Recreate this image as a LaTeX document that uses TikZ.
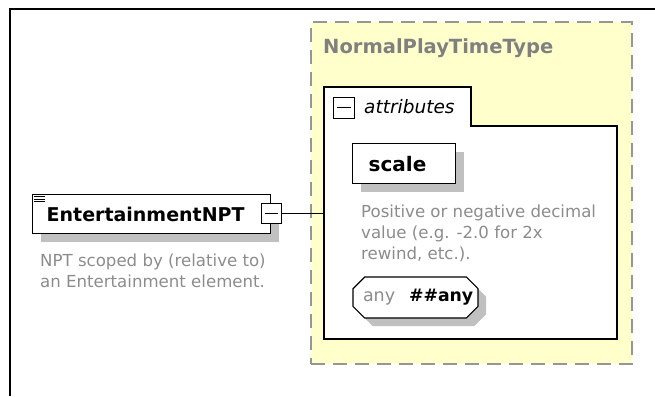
\documentclass[tikz,border=0pt]{standalone}
\usepackage{fontspec}
\setmainfont{DejaVu Sans}
\usetikzlibrary{positioning,shapes.misc,shadows,calc}
\definecolor{typeYellow}{RGB}{255,255,204}
\definecolor{dashGray}{RGB}{150,150,150}
\definecolor{shadowGray}{RGB}{192,192,192}
\definecolor{noteGray}{RGB}{140,140,140}
\definecolor{titleGray}{RGB}{128,128,128}

\begin{document}
\begin{tikzpicture}[x=1pt,y=-1pt,
  shade/.style={drop shadow={shadow xshift=8pt, shadow yshift=-8pt,
                fill=shadowGray, opacity=1}},
  elem/.style={rectangle, draw, line width=1.4pt, fill=white, shade,
               anchor=north west, inner ysep=0pt, align=left,
               font=\fontsize{#1}{#1}\selectfont\bfseries},
  minusbox/.style={rectangle, draw, line width=1pt, fill=white,
                   minimum size=#1, inner sep=0pt},
  note/.style={anchor=north west, inner sep=0pt, align=left, text=noteGray,
               font=\fontsize{16.6}{21}\selectfont},
  conn/.style={line width=1pt}
]
  \useasboundingbox (0,0) rectangle (655,396);

  % Outer frame
  \draw[line width=1.2pt] (655,9) -- (10,9) -- (10,396);

  % Complex type
  \node[rectangle, draw=dashGray, fill=typeYellow, line width=1.6pt,
        dash pattern=on 14pt off 8pt, anchor=north west,
        minimum width=321pt, minimum height=342pt] (type) at (310,21) {};
  \node[anchor=west, inner sep=0pt, text=titleGray,
        font=\fontsize{19.5}{19.5}\selectfont\bfseries]
    (typeTitle) at (323,48) {NormalPlayTimeType};

  % Attributes group with tab
  \draw[line width=1.4pt, fill=white]
    (324,87) -- (471,87) -- (471,126) -- (617,126)
    -- (617,339) -- (324,339) -- cycle;
  \coordinate (attrW) at (324,213);
  \node[minusbox=21pt] (attrMinus) at (344,107.5) {};
  \draw[line width=1pt] ($(attrMinus.west)+(4,0)$) -- ($(attrMinus.east)+(-4,0)$);
  \node[anchor=west, inner sep=0pt, font=\fontsize{18.5}{18.5}\selectfont\itshape]
    (attrLabel) at (364,107) {attributes};

  % Attribute scale
  \node[elem=20, minimum width=103pt, minimum height=40pt, inner xsep=16pt,
        text width=71pt]
    (scaleAttr) at (352,143) {scale};
  \node[note] (scaleNote) at (361,204.5)
    {Positive or negative decimal\\value (e.g. -2.0 for 2x\\rewind, etc.).};

  % Any attribute
  \node[chamfered rectangle, chamfered rectangle xsep=9pt, draw,
        line width=1.2pt, fill=white, shade,
        minimum height=41pt, inner xsep=2pt, inner ysep=0pt,
        align=left, text width=105pt]
    (anyAttr) at (415.5,297.5)
    {\makebox[46pt][l]{\textcolor{noteGray}{\fontsize{17.5}{17.5}\selectfont any}}%
     {\fontsize{17.3}{17.3}\selectfont\bfseries\#\#any}};

  % Element
  \node[elem=19, minimum width=238pt, minimum height=39pt, inner xsep=14pt,
        text width=210pt]
    (npt) at (32,194) {EntertainmentNPT};
  \foreach \dy in {196.5,199,201.5}
    \draw[line width=0.8pt] (34,\dy) -- (45,\dy);
  \node[note] (nptNote) at (40,253.5)
    {NPT scoped by (relative to)\\an Entertainment element.};
  \node[minusbox=20pt] (nptMinus) at (271,213) {};
  \draw[line width=1pt] ($(nptMinus.west)+(4,0)$) -- ($(nptMinus.east)+(-4,0)$);

  \draw[conn] (nptMinus.east) -- (attrW);
\end{tikzpicture}
\end{document}
